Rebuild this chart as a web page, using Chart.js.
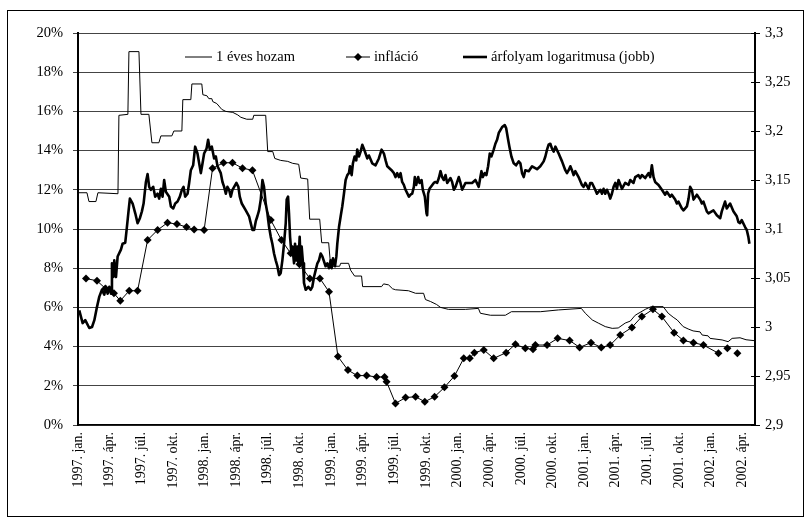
<!DOCTYPE html>
<html>
<head>
<meta charset="utf-8">
<script src="https://cdn.jsdelivr.net/npm/chart.js@4/dist/chart.umd.min.js"></script>
<style>
  html, body { margin: 0; padding: 0; background: #fff; }
  canvas { display: block; }
</style>
</head>
<body>
<canvas id="chart" width="806" height="520"></canvas>
<script>
// x = months since 1997 jan.
const quarterLabels = [
  '1997. jan.', '1997. ápr.', '1997. júl.', '1997. okt.',
  '1998. jan.', '1998. ápr.', '1998. júl.', '1998. okt.',
  '1999. jan.', '1999. ápr.', '1999. júl.', '1999. okt.',
  '2000. jan.', '2000. ápr.', '2000. júl.', '2000. okt.',
  '2001. jan.', '2001. ápr.', '2001. júl.', '2001. okt.',
  '2002. jan.', '2002. ápr.'
];
const leftTicks = [0, 2, 4, 6, 8, 10, 12, 14, 16, 18, 20];
const rightTicks = [2.9, 2.95, 3, 3.05, 3.1, 3.15, 3.2, 3.25, 3.3];

// 1 éves hozam (%)
const yieldPoints = [
  [0.09,11.85],[0.85,11.85],[1.04,11.4],[1.7,11.4],[1.89,11.85],[3.79,11.8],[3.88,15.8],[4.73,15.85],
  [4.83,19.05],[5.78,19.05],[5.97,15.85],[6.72,15.85],[7.01,14.4],[7.67,14.4],[7.86,14.75],[8.9,14.75],
  [9.09,15.0],[9.85,15.0],[9.94,16.6],[10.7,16.6],[10.8,17.4],[11.74,17.4],[11.84,16.85],[12.22,16.8],
  [12.41,16.65],[12.69,16.65],[12.78,16.5],[13.16,16.4],[13.64,16.1],[14.02,16.0],[14.68,15.95],[15.15,15.82],
  [15.44,15.7],[16.0,15.6],[16.57,15.6],[16.67,15.8],[17.8,15.8],[17.99,13.95],[18.47,13.95],[18.66,13.6],
  [19.22,13.5],[19.89,13.45],[20.36,13.35],[20.93,13.3],[21.12,12.6],[21.78,12.55],[21.97,10.5],[22.92,10.5],
  [23.11,9.3],[23.77,9.3],[23.96,8.1],[24.81,8.1],[24.91,8.25],[25.66,8.25],[25.85,7.9],[26.23,7.6],
  [26.89,7.6],[26.99,7.06],[28.79,7.06],[28.98,7.2],[29.45,7.15],[29.83,6.95],[30.11,6.9],[31.34,6.85],
  [32.01,6.72],[32.77,6.72],[32.95,6.4],[33.43,6.3],[34.0,6.15],[34.38,6.0],[35.13,5.9],[36.74,5.9],
  [37.97,5.95],[38.16,5.7],[39.11,5.6],[40.53,5.6],[41.1,5.78],[43.84,5.78],[45.55,5.87],[47.73,5.95],
  [48.11,5.7],[48.77,5.36],[49.34,5.2],[50.0,5.02],[50.66,4.93],[51.23,4.95],[51.89,5.2],[52.37,5.3],
  [52.84,5.6],[53.79,5.9],[54.36,6.04],[55.49,6.04],[55.97,5.7],[56.44,5.5],[56.82,5.36],[57.39,5.02],
  [57.86,4.9],[58.33,4.8],[58.99,4.75],[59.19,4.59],[59.75,4.55],[59.94,4.42],[61.08,4.34],[61.65,4.25],
  [62.03,4.42],[62.78,4.45],[63.35,4.35],[64.2,4.3]
];

// infláció (%), null = hiányzó adat
const inflationPoints = [
  [0.76,7.47],[1.8,7.36],[2.59,6.97],[3.41,6.72],[4.01,6.34],[4.86,6.85],[5.65,6.85],[6.6,9.44],
  [7.55,9.95],[8.49,10.32],[9.38,10.25],[10.29,10.1],[11.01,9.97],[11.96,9.95],[12.76,13.1],[13.8,13.38],
  [14.65,13.38],[15.6,13.1],[16.54,13.0],[18.28,10.46],[19.29,9.44],[20.17,8.76],[21.0,8.2],[21.99,7.48],
  [22.94,7.48],[23.8,6.8],[24.65,3.49],[25.6,2.8],[26.49,2.52],[27.37,2.52],[28.31,2.45],[29.07,2.45],
  [29.26,2.21],[30.11,1.1],[31.06,1.4],[32.01,1.44],[32.89,1.19],[33.81,1.44],[34.75,1.92],[35.7,2.5],
  [36.58,3.4],[37.15,3.4],[37.59,3.69],[38.48,3.83],[39.42,3.4],[40.6,3.69],[41.48,4.12],[42.42,3.91],
  [43.15,3.86],[43.37,4.08],[44.48,4.08],[45.48,4.42],[46.62,4.31],[47.57,3.96],[48.65,4.2],[49.62,3.96],
  [50.47,4.08],[51.42,4.59],[52.53,4.98],[53.47,5.53],[54.52,5.9],[55.37,5.53],[56.53,4.71],[57.41,4.31],
  [58.36,4.2],[59.31,4.08],[60.73,3.66],[61.2,null],[61.58,3.91],[62.1,null],[62.53,3.66]
];

// árfolyam logaritmusa (jobb tengely)
const fxPoints = [
  [0.12,3.017],[0.44,3.004],[0.69,3.007],[1.07,2.999],[1.33,3.000],[1.55,3.007],[1.77,3.019],[2.02,3.031],
  [2.27,3.038],[2.49,3.033],[2.65,3.041],[2.81,3.034],[2.97,3.041],[3.13,3.034],[3.22,3.065],[3.35,3.051],
  [3.44,3.068],[3.6,3.051],[3.76,3.072],[4.07,3.079],[4.23,3.085],[4.48,3.086],[4.61,3.099],[4.8,3.119],
  [4.92,3.131],[5.18,3.126],[5.43,3.116],[5.65,3.106],[5.87,3.111],[6.06,3.118],[6.22,3.126],[6.44,3.148],
  [6.6,3.156],[6.75,3.143],[6.91,3.140],[7.13,3.143],[7.32,3.133],[7.54,3.136],[7.7,3.131],[7.86,3.141],
  [8.02,3.133],[8.17,3.150],[8.33,3.138],[8.65,3.133],[8.81,3.123],[9.03,3.121],[9.22,3.126],[9.44,3.128],
  [9.66,3.133],[9.85,3.140],[10.01,3.143],[10.16,3.133],[10.39,3.136],[10.54,3.147],[10.7,3.160],[10.92,3.165],
  [11.11,3.184],[11.33,3.177],[11.49,3.167],[11.65,3.157],[11.81,3.167],[11.96,3.177],[12.19,3.182],[12.34,3.191],
  [12.5,3.181],[12.69,3.184],[12.91,3.172],[13.07,3.174],[13.23,3.164],[13.54,3.157],[13.7,3.148],[13.86,3.143],
  [14.02,3.136],[14.17,3.143],[14.33,3.140],[14.49,3.133],[14.65,3.140],[15.02,3.147],[15.21,3.143],[15.34,3.133],
  [15.53,3.126],[15.91,3.119],[16.22,3.113],[16.38,3.106],[16.54,3.099],[16.7,3.099],[16.86,3.108],[17.01,3.113],
  [17.17,3.119],[17.33,3.130],[17.49,3.150],[17.64,3.143],[17.8,3.126],[17.96,3.116],[18.12,3.102],[18.28,3.092],
  [18.43,3.085],[18.59,3.075],[18.75,3.068],[18.91,3.062],[19.07,3.053],[19.22,3.055],[19.38,3.068],[19.54,3.085],
  [19.7,3.106],[19.79,3.130],[19.92,3.133],[20.01,3.116],[20.11,3.092],[20.24,3.075],[20.33,3.082],[20.49,3.065],
  [20.58,3.085],[20.71,3.068],[20.8,3.082],[20.9,3.065],[21.02,3.092],[21.12,3.065],[21.21,3.082],[21.34,3.065],
  [21.43,3.045],[21.59,3.038],[21.84,3.041],[22.06,3.038],[22.22,3.041],[22.38,3.051],[22.54,3.058],[22.7,3.065],
  [22.85,3.068],[23.01,3.075],[23.17,3.072],[23.48,3.062],[23.64,3.065],[23.8,3.060],[23.96,3.068],[24.05,3.060],
  [24.18,3.070],[24.37,3.062],[24.5,3.072],[24.59,3.085],[24.75,3.102],[24.91,3.113],[25.06,3.123],[25.22,3.136],
  [25.38,3.150],[25.54,3.155],[25.69,3.157],[25.79,3.164],[25.95,3.155],[26.07,3.167],[26.23,3.174],[26.39,3.170],
  [26.48,3.181],[26.64,3.174],[26.8,3.179],[26.96,3.186],[27.11,3.182],[27.27,3.177],[27.43,3.172],[27.59,3.175],
  [27.9,3.167],[28.22,3.165],[28.53,3.172],[28.79,3.181],[29.01,3.177],[29.17,3.170],[29.33,3.164],[29.73,3.160],
  [29.96,3.157],[30.11,3.153],[30.27,3.157],[30.43,3.153],[30.59,3.157],[30.74,3.148],[30.9,3.145],[31.06,3.140],
  [31.38,3.133],[31.53,3.135],[31.69,3.136],[31.85,3.143],[31.94,3.153],[32.07,3.145],[32.26,3.153],[32.39,3.147],
  [32.58,3.150],[32.7,3.140],[32.89,3.133],[33.05,3.116],[33.11,3.114],[33.2,3.136],[33.33,3.141],[33.74,3.147],
  [33.9,3.148],[34.06,3.147],[34.22,3.152],[34.38,3.159],[34.53,3.153],[34.69,3.150],[34.85,3.155],[35.01,3.147],
  [35.32,3.152],[35.48,3.148],[35.64,3.140],[35.8,3.143],[36.11,3.153],[36.27,3.147],[36.43,3.140],[36.74,3.147],
  [37.06,3.147],[37.37,3.147],[37.69,3.150],[38.0,3.143],[38.16,3.153],[38.26,3.159],[38.38,3.153],[38.57,3.157],
  [38.73,3.155],[38.89,3.164],[39.05,3.177],[39.2,3.174],[39.42,3.181],[39.58,3.187],[39.74,3.191],[39.9,3.198],
  [40.22,3.204],[40.47,3.206],[40.6,3.203],[40.79,3.191],[40.91,3.184],[41.1,3.174],[41.32,3.167],[41.54,3.165],
  [41.79,3.169],[41.95,3.167],[42.11,3.157],[42.27,3.153],[42.42,3.160],[42.74,3.159],[43.06,3.164],[43.53,3.161],
  [43.84,3.164],[44.16,3.169],[44.32,3.174],[44.48,3.181],[44.63,3.186],[44.79,3.187],[44.95,3.182],[45.11,3.179],
  [45.27,3.184],[45.58,3.177],[45.9,3.169],[46.21,3.160],[46.37,3.157],[46.53,3.160],[46.69,3.164],[46.84,3.160],
  [47.0,3.155],[47.16,3.159],[47.47,3.153],[47.79,3.145],[47.95,3.143],[48.11,3.147],[48.42,3.141],[48.58,3.147],
  [48.74,3.147],[49.05,3.140],[49.21,3.136],[49.53,3.140],[49.69,3.136],[49.84,3.141],[50.0,3.136],[50.16,3.140],
  [50.32,3.136],[50.47,3.131],[50.63,3.136],[50.79,3.143],[50.95,3.147],[51.11,3.141],[51.26,3.150],[51.58,3.141],
  [51.89,3.147],[52.21,3.145],[52.37,3.150],[52.68,3.147],[52.84,3.153],[53.15,3.155],[53.31,3.152],[53.47,3.155],
  [53.79,3.152],[54.1,3.157],[54.26,3.153],[54.42,3.165],[54.58,3.153],[54.73,3.148],[55.05,3.145],[55.37,3.140],
  [55.68,3.135],[55.84,3.138],[56.16,3.133],[56.31,3.135],[56.63,3.130],[56.79,3.126],[56.94,3.128],[57.26,3.121],
  [57.42,3.119],[57.74,3.123],[57.9,3.131],[58.05,3.143],[58.21,3.140],[58.37,3.130],[58.69,3.135],[59.0,3.130],
  [59.16,3.126],[59.31,3.128],[59.63,3.118],[59.79,3.116],[60.1,3.118],[60.26,3.119],[60.58,3.114],[60.9,3.111],
  [61.05,3.118],[61.36,3.128],[61.52,3.121],[61.84,3.126],[62.15,3.118],[62.47,3.113],[62.63,3.107],[62.78,3.106],
  [62.94,3.109],[63.26,3.102],[63.42,3.099],[63.57,3.092],[63.67,3.085]
];

const toXY = pts => pts.map(p => ({ x: p[0], y: p[1] }));

Chart.defaults.font.family = '"Liberation Serif", "Times New Roman", serif';
Chart.defaults.font.size = 14.5;
Chart.defaults.color = '#000';

// white page + outer frame
const framePlugin = {
  id: 'frame',
  beforeDraw(chart) {
    const ctx = chart.ctx;
    ctx.save();
    ctx.fillStyle = '#fff';
    ctx.fillRect(0, 0, chart.width, chart.height);
    ctx.strokeStyle = '#000';
    ctx.lineWidth = 1;
    ctx.strokeRect(7.5, 10.5, 796, 506);
    ctx.restore();
  }
};

// tick marks crossing the right axis
const rightTicksPlugin = {
  id: 'rightTicks',
  afterDraw(chart) {
    const s = chart.scales.y1;
    const ctx = chart.ctx;
    ctx.save();
    ctx.strokeStyle = '#000';
    ctx.lineWidth = 1;
    ctx.beginPath();
    s.ticks.forEach((t, i) => {
      const y = Math.round(s.getPixelForTick(i)) + 0.5;
      ctx.moveTo(s.left - 4, y);
      ctx.lineTo(s.left + 5, y);
    });
    ctx.stroke();
    ctx.restore();
  }
};

// legend inside the plot area
const legendPlugin = {
  id: 'innerLegend',
  afterDraw(chart) {
    const ctx = chart.ctx;
    const area = chart.chartArea;
    const y = area.top + 24;
    const items = [
      { x: area.left + 107, w: 27 },
      { x: area.left + 268, w: 24 },
      { x: area.left + 385, w: 24 }
    ];
    ctx.save();
    ctx.font = '14.5px "Liberation Serif", serif';
    ctx.textBaseline = 'middle';
    ctx.fillStyle = '#000';
    chart.data.datasets.forEach((ds, i) => {
      const it = items[i];
      ctx.strokeStyle = '#000';
      ctx.lineWidth = ds.borderWidth;
      ctx.beginPath();
      ctx.moveTo(it.x, y);
      ctx.lineTo(it.x + it.w, y);
      ctx.stroke();
      if (ds.pointRadius > 0) {
        const cx = it.x + it.w / 2, r = ds.pointRadius;
        ctx.beginPath();
        ctx.moveTo(cx - r, y); ctx.lineTo(cx, y - r); ctx.lineTo(cx + r, y); ctx.lineTo(cx, y + r);
        ctx.closePath();
        ctx.fill();
      }
      ctx.fillText(ds.label, it.x + it.w + 4, y);
    });
    ctx.restore();
  }
};

new Chart(document.getElementById('chart'), {
  type: 'line',
  data: {
    datasets: [
      {
        label: '1 éves hozam',
        data: toXY(yieldPoints),
        yAxisID: 'y',
        borderColor: '#000',
        borderWidth: 1,
        pointRadius: 0,
        tension: 0
      },
      {
        label: 'infláció',
        data: toXY(inflationPoints),
        yAxisID: 'y',
        borderColor: '#000',
        borderWidth: 1,
        pointStyle: 'rectRot',
        pointRadius: 4,
        pointBackgroundColor: '#000',
        pointBorderColor: '#000',
        pointBorderWidth: 0,
        spanGaps: false,
        tension: 0
      },
      {
        label: 'árfolyam logaritmusa (jobb)',
        data: toXY(fxPoints),
        yAxisID: 'y1',
        borderColor: '#000',
        borderWidth: 2.6,
        borderJoinStyle: 'round',
        pointRadius: 0,
        tension: 0
      }
    ]
  },
  options: {
    responsive: false,
    animation: false,
    layout: { padding: { top: 33, left: 0, right: 0, bottom: 0 } },
    plugins: {
      legend: { display: false },
      tooltip: { enabled: false }
    },
    scales: {
      x: {
        type: 'linear',
        min: 0,
        max: 64.2,
        afterFit: s => { s.height = 95; },
        afterBuildTicks: s => { s.ticks = quarterLabels.map((l, i) => ({ value: i * 3 })); },
        grid: { display: false, drawTicks: false },
        border: { display: true, color: '#000', width: 1.5 },
        ticks: {
          autoSkip: false,
          minRotation: 90,
          maxRotation: 90,
          padding: 7,
          font: { size: 14 },
          callback: v => quarterLabels[Math.round(v / 3)]
        }
      },
      y: {
        position: 'left',
        min: 0,
        max: 20,
        afterFit: s => { s.width = 78; },
        afterBuildTicks: s => { s.ticks = leftTicks.map(v => ({ value: v })); },
        grid: { color: '#444', lineWidth: 1, tickLength: 5 },
        border: { display: true, color: '#000', width: 2 },
        ticks: { padding: 10, callback: v => v + '%' }
      },
      y1: {
        position: 'right',
        min: 2.9,
        max: 3.3,
        afterFit: s => { s.width = 51; },
        afterBuildTicks: s => { s.ticks = rightTicks.map(v => ({ value: v })); },
        grid: { drawOnChartArea: false, drawTicks: false },
        border: { display: true, color: '#000', width: 2 },
        ticks: { padding: 10, callback: v => String(Number(v.toFixed(2))).replace('.', ',') }
      }
    }
  },
  plugins: [framePlugin, rightTicksPlugin, legendPlugin]
});
</script>
</body>
</html>
